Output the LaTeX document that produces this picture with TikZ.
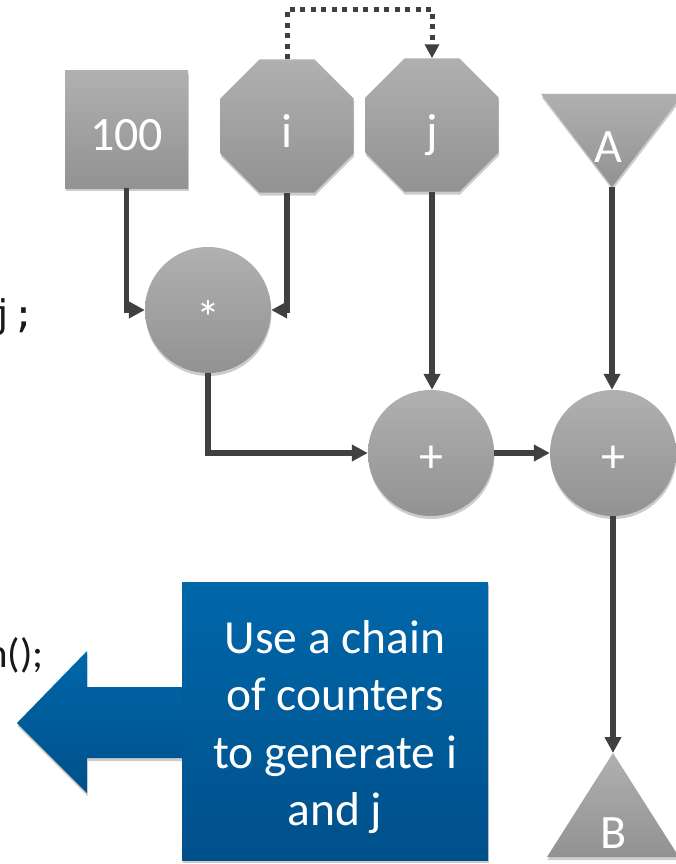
\documentclass[tikz,border=0pt]{standalone}
\usepackage{fontspec}
\setmainfont{Carlito}
\newfontfamily\codefont{DejaVu Sans Mono}
\usetikzlibrary{arrows.meta,shapes.geometric,shadows}
\definecolor{gtop}{RGB}{176,176,176}
\definecolor{gbot}{RGB}{146,146,146}
\definecolor{btop}{RGB}{0,103,170}
\definecolor{bbot}{RGB}{0,80,138}
\definecolor{lineclr}{RGB}{64,64,64}
\tikzset{
  shadegray/.style={top color=gtop,bottom color=gbot,draw=none},
  shad/.style={drop shadow={shadow xshift=0.5pt,shadow yshift=-3pt,opacity=0.2,fill=black}},
  sqbox/.style={rectangle,shadegray,shad,minimum width=123pt,minimum height=117pt,inner sep=0pt},
  octa/.style={regular polygon,regular polygon sides=8,minimum size=144pt,inner sep=0pt,shadegray,shad},
  opcirc/.style={circle,minimum size=126pt,inner sep=0pt,shadegray,shad},
  lab/.style={text=white,font=\fontsize{48}{57}\selectfont,inner sep=0pt},
  conn/.style={draw=lineclr,line width=5.5pt,-{Triangle[length=16pt,width=16pt]}},
  dotconn/.style={draw=lineclr,line width=5pt,dash pattern=on 5pt off 5.5pt,-{Triangle[length=14pt,width=14pt]}},
  bluefill/.style={top color=btop,bottom color=bbot,draw=none},
  bluebox/.style={rectangle,bluefill,shad,minimum width=306pt,minimum height=278pt,inner sep=0pt},
  boxtext/.style={text=white,align=center,font=\fontsize{47.5}{57.6}\selectfont,inner sep=0pt},
  codetext/.style={text=black!90,inner sep=0pt}
}
\begin{document}
\begin{tikzpicture}[x=1pt,y=-1pt]
\useasboundingbox (0,0) rectangle (675,864);
% code fragments at left edge
\node[codetext,anchor=base east,font=\codefont\fontsize{38}{45}\selectfont] (code1) at (36,327) {j;};
\node[codetext,anchor=base east,font=\fontsize{41}{48}\selectfont] (code2) at (44,667) {n();};
% blue callout arrow
\path[bluefill,shad] (182,687) -- (87,687) -- (87,651) -- (17,723) -- (87,793) -- (87,758) -- (182,758) -- cycle;
% blue box
\node[bluebox] (note) at (335,721) {};
\node[boxtext,anchor=north] (notetext) at (335,620) {Use a chain\\of counters\\to generate i\\and j};
% gray shapes
\node[sqbox] (sq) at (126.5,129.5) {};
\node[octa] (octI) at (287,126) {};
\node[octa] (octJ) at (432,125) {};
\path[shadegray,shad] (541,94) -- (683,94) -- (612,187) -- cycle;
\coordinate (Atip) at (612,187);
\node[opcirc] (mul) at (208,310) {};
\node[opcirc] (addL) at (431,453) {};
\node[opcirc] (addR) at (613,453) {};
\path[shadegray,shad] (613,753) -- (679,857) -- (547,857) -- cycle;
\coordinate (Btip) at (613,753);
% labels
\node[lab,anchor=base] (t100) at (126.5,150) {100};
\node[lab,anchor=base] (ti) at (287,147) {i};
\node[lab,anchor=base] (tj) at (432,147) {j};
\node[lab,anchor=base] (tA) at (608,162) {A};
\node[lab] (tmul) at (208,317) {*};
\node[lab] (tadd1) at (431,459) {+};
\node[lab] (tadd2) at (613,459) {+};
\node[lab,anchor=base] (tB) at (614,848) {B};
% connectors
\draw[dotconn] (octI.north) -- ++(0,-50) -| (octJ.north);
\draw[conn] (sq.south) |- (mul.west);
\draw[conn] (octI.south) |- (mul.east);
\draw[conn] (mul.south) |- (addL.west);
\draw[conn] (octJ.south) -- (octJ.south |- addL.north);
\draw[conn] (Atip) -- (Atip |- addR.north);
\draw[conn] (addL.east) -- (addR.west);
\draw[conn] (addR.south) -- (Btip);
\end{tikzpicture}
\end{document}
